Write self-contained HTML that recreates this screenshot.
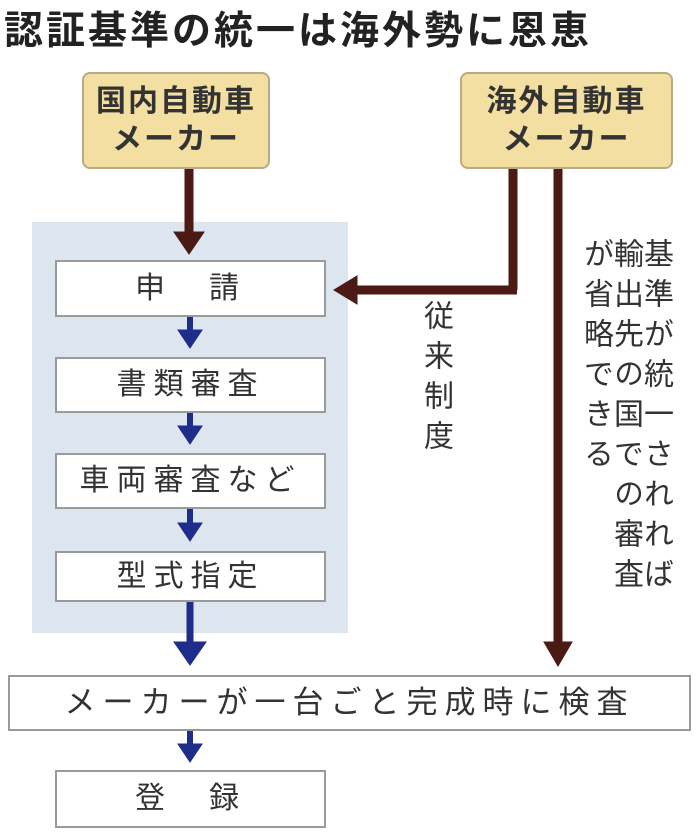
<!DOCTYPE html>
<html><head><meta charset="utf-8"><style>
body{margin:0;width:698px;height:837px;background:#fff;position:relative;overflow:hidden;font-family:"Liberation Sans","Noto Sans CJK JP",sans-serif;color:#222}
.a{position:absolute}
.tan{background:#f3dfa2;border:2px solid #b9a985;border-radius:8px;text-align:center;font-size:30px;line-height:38px;box-sizing:border-box;padding-top:9px;font-weight:bold;color:#333;letter-spacing:2px}
.w{background:#fff;border:2px solid #9a9a9a;box-sizing:border-box;text-align:center;font-size:30px;color:#333;letter-spacing:7px}
.v{writing-mode:vertical-rl;font-size:30px;line-height:30px;letter-spacing:10px;color:#333}
</style></head><body>
<div class="a" style="left:4px;top:0px;font-size:39px;font-weight:bold;color:#222;letter-spacing:3px;white-space:nowrap">認証基準の統一は海外勢に恩恵</div>
<div class="a tan" style="left:82px;top:72px;width:188px;height:97px">国内自動車<br>メーカー</div>
<div class="a tan" style="left:460px;top:72px;width:213px;height:97px">海外自動車<br>メーカー</div>
<div class="a" style="left:32px;top:222px;width:316px;height:411px;background:#dde5ef"></div>
<div class="a w" style="left:55px;top:260px;width:271px;height:57px;line-height:53px">申　請</div>
<div class="a w" style="left:55px;top:357px;width:271px;height:56px;line-height:52px">書類審査</div>
<div class="a w" style="left:55px;top:453px;width:271px;height:56px;line-height:52px">車両審査など</div>
<div class="a w" style="left:55px;top:551px;width:271px;height:51px;line-height:47px">型式指定</div>
<div class="a w" style="left:8px;top:675px;width:683px;height:56px;line-height:52px;font-size:31px;letter-spacing:7px;white-space:nowrap">メーカーが一台ごと完成時に検査</div>
<div class="a w" style="left:55px;top:770px;width:271px;height:58px;line-height:54px">登　録</div>
<svg class="a" style="left:0;top:0" width="698" height="837">
<g fill="#4b1a14" stroke="#4b1a14">
<line x1="189" y1="169" x2="189" y2="235" stroke-width="9"/><polygon points="174,232 204,232 189,254"/>
<line x1="513" y1="169" x2="513" y2="290" stroke-width="9"/><line x1="517" y1="290" x2="355" y2="290" stroke-width="9"/><polygon points="357,276 357,304 334,290"/>
<line x1="558" y1="169" x2="558" y2="645" stroke-width="9"/><polygon points="544,642 572,642 558,666"/>
</g>
<g fill="#1e2d8a" stroke="#1e2d8a">
<line x1="190" y1="317" x2="190" y2="332" stroke-width="6"/><polygon points="178,330 202,330 190,348"/>
<line x1="190" y1="413" x2="190" y2="428" stroke-width="6"/><polygon points="178,426 202,426 190,444"/>
<line x1="190" y1="509" x2="190" y2="525" stroke-width="6"/><polygon points="178,523 202,523 190,541"/>
<line x1="190" y1="602" x2="190" y2="645" stroke-width="7"/><polygon points="174,642 206,642 190,665"/>
<line x1="190" y1="731" x2="190" y2="746" stroke-width="6"/><polygon points="178,744 202,744 190,762"/>
</g></svg>
<div class="a v" style="left:420px;top:300px">従来制度</div>
<div class="a v" style="left:640px;top:238px">基準が統一されれば</div>
<div class="a v" style="left:610px;top:238px">輸出先の国での審査</div>
<div class="a v" style="left:580px;top:238px">が省略できる</div>
</body></html>
